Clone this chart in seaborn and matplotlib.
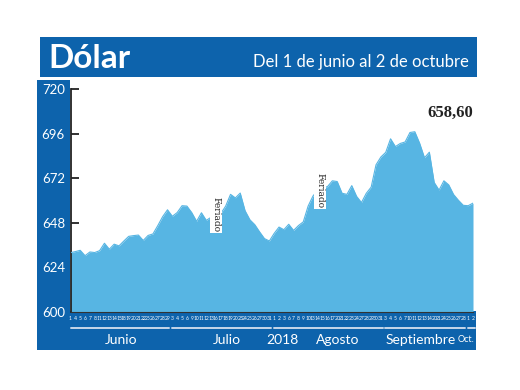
import matplotlib
matplotlib.use("Agg")
import matplotlib.pyplot as plt
import matplotlib.transforms as mtransforms
from matplotlib.patches import Rectangle
import seaborn as sns
import pandas as pd

# ---------------- data ----------------
months = ["Junio", "Julio", "Agosto", "Septiembre", "Oct."]
days_jun = [1, 4, 5, 6, 7, 8, 11, 12, 13, 14, 15, 18, 19, 20, 21, 22, 25, 26, 27, 28, 29]
days_jul = [3, 4, 5, 6, 9, 10, 11, 12, 13, 16, 17, 18, 19, 20, 23, 24, 25, 26, 27, 30, 31]
days_aug = [1, 2, 3, 6, 7, 8, 9, 10, 13, 14, 15, 16, 17, 20, 21, 22, 23, 24, 27, 28, 29, 30, 31]
days_sep = [3, 4, 5, 6, 7, 10, 11, 12, 13, 14, 20, 21, 24, 25, 26, 27, 28]
days_oct = [1, 2]

values = [
    631.9, 632.5, 633.2, 630.3, 632.3, 632.0, 633.0, 637.0, 633.8, 636.5,
    635.6, 638.2, 640.7, 641.1, 641.4, 638.5, 641.2, 642.0, 646.5, 651.3,
    655.0,
    651.5, 653.5, 657.2, 657.0, 653.5, 648.8, 653.4, 649.3, 651.0, 652.0,
    653.0, 657.0, 663.3, 661.4, 664.0, 654.5, 649.6, 647.0, 643.1, 639.5,
    638.2,
    642.3, 645.7, 644.3, 647.2, 643.9, 646.5, 648.5, 657.0, 662.4, 665.6,
    666.6, 667.5, 670.6, 670.2, 663.9, 663.3, 668.0, 662.2, 658.9, 663.9,
    667.2, 679.2, 683.4,
    685.9, 693.2, 689.0, 690.7, 691.5, 696.6, 697.0, 690.8, 683.0, 686.0,
    669.7, 665.6, 670.6, 668.4, 663.2, 660.1, 657.4,
    657.2, 658.6,
]
y_ticks = [600, 624, 648, 672, 696, 720]
title = "Dólar"
subtitle = "Del 1 de junio al 2 de octubre"
last_label = "658,60"
year_label = "2018"
feriado_label = "Feriado"
feriado_days = [("Julio", 16), ("Agosto", 15)]

month_days = [days_jun, days_jul, days_aug, days_sep, days_oct]
day_labels = [str(d) for md in month_days for d in md]
month_of = [m for m, md in zip(months, month_days) for _ in md]
df = pd.DataFrame({"idx": range(len(values)), "valor": values,
                   "dia": day_labels, "mes": month_of})

# ---------------- style ----------------
DARK = "#0d63ac"
AREA = "#57b5e3"
W, H = 520, 390

sns.set_style("white")
plt.rcParams["font.family"] = ["Lato", "DejaVu Sans"]

fig = plt.figure(figsize=(W / 100, H / 100), dpi=100)
fig.patch.set_facecolor("white")

def px_rect(x0, y0, x1, y1, color, z=-5):
    r = Rectangle((x0 / W, 1 - y1 / H), (x1 - x0) / W, (y1 - y0) / H,
                  transform=fig.transFigure, facecolor=color,
                  edgecolor="none", zorder=z)
    fig.add_artist(r)

px_rect(40, 37, 477, 77, DARK)        # title bar
px_rect(37, 80, 70, 350, DARK)        # left column
px_rect(37, 311, 476, 350, DARK)      # bottom bar

ax_l, ax_r, ax_t, ax_b = 70.5, 473.0, 89.0, 312.0
ax = fig.add_axes([ax_l / W, 1 - ax_b / H, (ax_r - ax_l) / W, (ax_b - ax_t) / H])
ax.set_facecolor("white")

ax.fill_between(df["idx"], df["valor"], 600, color=AREA, linewidth=0, zorder=2)
sns.lineplot(data=df, x="idx", y="valor", ax=ax, color=AREA, linewidth=0.8,
             zorder=3, legend=False)

ax.set_xlim(0, len(values) - 1)
ax.set_ylim(600, 720)
ax.set_xlabel("")
ax.set_ylabel("")

ax.set_yticks(y_ticks)
ax.set_yticklabels([str(v) for v in y_ticks], color="white", fontsize=9.5)
ax.tick_params(axis="y", direction="in", length=6, width=1.3, color="#222222",
               pad=4, left=True)

ax.set_xticks(df["idx"])
ax.set_xticklabels(df["dia"], color="white", fontsize=3.6)
ax.tick_params(axis="x", length=0, pad=3)

for s in ["top", "right"]:
    ax.spines[s].set_visible(False)
ax.spines["left"].set_color("#222222")
ax.spines["left"].set_linewidth(1.3)
ax.spines["bottom"].set_color("#333333")
ax.spines["bottom"].set_linewidth(0.8)

# month separators and labels
trans = mtransforms.blended_transform_factory(ax.transData, fig.transFigure)
y_line = 1 - 328 / H
y_text = 1 - 340 / H
start = 0
for m, md in zip(months, month_days):
    i0, i1 = start, start + len(md) - 1
    ax.plot([i0 - 0.05 if i0 else 0, i1 + 0.4], [y_line, y_line], transform=trans,
            color="#c6d7ea", linewidth=1.4, clip_on=False)
    start += len(md)

label_x = {"Junio": 10.4, "Julio": 32.2, "Agosto": 55.2, "Septiembre": 72.3, "Oct.": 81.6}
for m in months:
    ax.text(label_x[m], y_text, m, transform=trans, color="white",
            fontsize=6.5 if m == "Oct." else 10,
            ha="center", va="center")
ax.text(43.7, y_text, year_label, transform=trans, color="white", fontsize=10,
        ha="center", va="center")

# Feriado labels
fer_pos = {("Julio", 16): (30.0, 652.7), ("Agosto", 15): (51.5, 665.6)}
for k in feriado_days:
    xx, yy = fer_pos[k]
    ax.text(xx, yy, feriado_label, rotation=270, fontsize=6.5, color="#222222",
            ha="center", va="center", zorder=5, family=["DejaVu Serif"],
            bbox=dict(boxstyle="square,pad=0.15", facecolor="white", edgecolor="none"))

# last value
fig.text(473 / W, 1 - 113 / H, last_label, ha="right", va="center", fontsize=12,
         fontweight="bold", color="#222222",
         family=["Liberation Serif", "DejaVu Serif"])

# titles
fig.text(48 / W, 1 - 58 / H, title, ha="left", va="center", fontsize=24,
         fontweight="bold", color="white")
fig.text(469 / W, 1 - 62 / H, subtitle, ha="right", va="center", fontsize=12,
         color="white")

fig.savefig("out.png", dpi=100)
